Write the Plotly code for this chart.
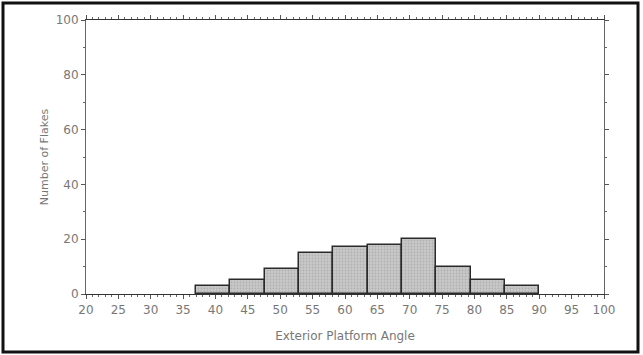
import plotly.graph_objects as go

# Histogram data
bin_edges = [37.0, 42.3, 47.6, 52.9, 58.2, 63.5, 68.8, 74.1, 79.4, 84.7, 90.0]
counts = [3, 5, 9, 15, 17, 18, 20, 10, 5, 3]
x_ticks = [20, 25, 30, 35, 40, 45, 50, 55, 60, 65, 70, 75, 80, 85, 90, 95, 100]
y_ticks = [0, 20, 40, 60, 80, 100]

centers = [(a + b) / 2 for a, b in zip(bin_edges[:-1], bin_edges[1:])]
widths = [b - a for a, b in zip(bin_edges[:-1], bin_edges[1:])]

fig = go.Figure(go.Bar(
    x=centers, y=counts, width=widths,
    marker=dict(color="#bcbcbc", line=dict(color="#2a2a2a", width=1.5),
                pattern=dict(shape=".", fgcolor="#9a9a9a", bgcolor="#c8c8c8", size=3, solidity=0.3)),
    hoverinfo="skip",
))

FAM = "DejaVu Sans, Verdana, sans-serif"
TXT = "#777777"

L, R, T, B = 86, 39, 20, 61
W, H = 643, 355
pw, ph = W - L - R, H - T - B

fig.update_layout(
    width=W, height=H,
    margin=dict(l=L, r=R, t=T, b=B, autoexpand=False),
    paper_bgcolor="white", plot_bgcolor="white",
    showlegend=False, bargap=0,
    font=dict(family=FAM, size=12, color=TXT),
    xaxis=dict(
        range=[20, 100], tickvals=x_ticks, ticktext=[str(v) for v in x_ticks],
        showgrid=False, zeroline=False, automargin=False,
        showline=True, linecolor="#333", linewidth=1.2, mirror="ticks",
        ticks="outside", ticklen=4, tickcolor="#555",
        minor=dict(dtick=1, ticks="outside", ticklen=2, tickcolor="#666"),
        title=dict(text="Exterior Platform Angle", font=dict(family=FAM, size=12, color=TXT), standoff=16),
        tickfont=dict(family=FAM, size=12, color=TXT),
    ),
    yaxis=dict(
        range=[0, 100], tickvals=y_ticks, ticktext=[str(v) for v in y_ticks],
        showgrid=False, zeroline=False, automargin=False,
        showline=True, linecolor="#666", linewidth=1, mirror="ticks",
        ticks="outside", ticklen=4, tickcolor="#555",
        minor=dict(dtick=10, ticks="outside", ticklen=2, tickcolor="#666"),
        title=dict(text="Number of Flakes", font=dict(family=FAM, size=11, color=TXT), standoff=4),
        tickfont=dict(family=FAM, size=12, color=TXT),
    ),
)

# Outer frame of the figure
fig.add_shape(type="rect", xref="paper", yref="paper",
              x0=(3 - L) / pw, x1=(638 - L) / pw,
              y0=-(352 - (T + ph)) / ph, y1=(T + ph - 3) / ph,
              line=dict(color="#111", width=3), layer="above")

fig.write_html("out.html", config={"displayModeBar": False},
               post_script="document.body.style.margin='0';document.body.style.overflow='hidden';")
